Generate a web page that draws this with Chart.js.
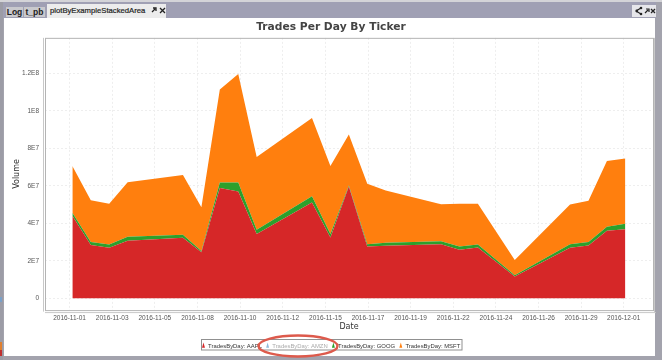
<!DOCTYPE html>
<html><head><meta charset="utf-8">
<script src="https://cdn.jsdelivr.net/npm/chart.js@4/dist/chart.umd.js"></script>
<style>
html,body{margin:0;padding:0;background:#a3a3ad;width:662px;height:360px;overflow:hidden;font-family:"Liberation Sans",sans-serif}
body{filter:blur(0.35px)}
div.a{position:absolute}
#top{left:0;top:0;width:662px;height:2px;background:#d4d4d8}
#band{left:3px;top:2px;width:653px;height:16px;background:#a0a0b4}
#panel{left:4px;top:18px;width:651px;height:338px;background:#fff}
#edge{left:0;top:2px;width:3px;height:358px;background:#9c9ca6}
.tab{height:10px;line-height:11px;top:7px;background:#c9c9cd;color:#222;font-size:8.5px;font-weight:bold;text-align:center}
canvas{position:absolute;left:0;top:0}
svg{position:absolute}
</style></head><body>
<div class="a" id="top"></div><div class="a" id="edge"></div><div class="a" id="band"></div><div class="a" id="panel"></div>
<div class="a tab" style="left:6px;width:17px">Log</div>
<div class="a tab" style="left:24px;width:21px">t_pb</div>
<div class="a tab" style="left:47px;top:4px;height:14px;line-height:14px;width:119px;background:#ececec;text-align:left;text-indent:3px;font-weight:normal;font-size:7.7px;-webkit-text-stroke:0.2px #222">plotByExampleStackedArea</div>
<svg style="left:150px;top:6px" width="16" height="8"><path d="M2 6L5 3M3 2H6V5" stroke="#222" stroke-width="1.3" fill="none"/><path d="M10 2L15 7M15 2L10 7" stroke="#222" stroke-width="1.3"/></svg>
<div class="a" style="left:632px;top:5px;width:24px;height:12px;background:#e6e6ea"></div>
<svg style="left:635px;top:6px" width="21" height="10"><path d="M1 5L6 2M1 5L6 8" stroke="#222" stroke-width="1.1" fill="none"/><circle cx="1.8" cy="5" r="1.4" fill="#222"/><circle cx="6" cy="2" r="1.3" fill="#222"/><circle cx="6" cy="8" r="1.3" fill="#222"/><path d="M10 7L13 4M11 3H14V6" stroke="#222" stroke-width="1.2" fill="none"/><path d="M16 3L20 7M20 3L16 7" stroke="#222" stroke-width="1.3"/></svg>
<div class="a" style="left:0;top:342px;width:2px;height:8px;background:#e08030"></div>
<div class="a" style="left:0;top:350px;width:2px;height:6px;background:#c03030"></div>
<div class="a" style="left:0;top:297px;width:2px;height:5px;background:#7aa0c8"></div>
<canvas id="c" width="662" height="360"></canvas>
<script>
const dates=["2016-11-01","2016-11-02","2016-11-03","2016-11-04","2016-11-07","2016-11-08","2016-11-09","2016-11-10","2016-11-11","2016-11-14","2016-11-15","2016-11-16","2016-11-17","2016-11-18","2016-11-21","2016-11-22","2016-11-23","2016-11-25","2016-11-28","2016-11-29","2016-11-30","2016-12-01"];
const aapl=[44.1e6,28.4e6,27.0e6,30.7e6,32.3e6,24.6e6,58.9e6,57.0e6,34.3e6,51.1e6,32.5e6,59.6e6,27.7e6,28.0e6,28.9e6,25.9e6,27.1e6,11.6e6,27.0e6,28.2e6,36.1e6,36.8e6];
const goog=[1.6e6,1.6e6,1.75e6,2.2e6,1.6e6,0.6e6,2.9e6,4.8e6,2.3e6,3.4e6,1.8e6,0.6e6,1.2e6,1.6e6,1.5e6,1.8e6,1.65e6,0.7e6,1.9e6,1.8e6,2.1e6,3.0e6];
const msft=[24.8e6,22.3e6,21.65e6,29.0e6,31.8e6,23.4e6,49.6e6,57.8e6,38.8e6,41.6e6,36.2e6,27.1e6,32.2e6,27.9e6,19.8e6,22.8e6,21.75e6,8.2e6,21.1e6,22.1e6,35.0e6,34.7e6];
const amzn=[];
const seriesNames=["TradesByDay: AAPL","TradesByDay: AMZN","TradesByDay: GOOG","TradesByDay: MSFT"];
const xTickDays=[-0.15,2.16,4.475,6.79,9.1,11.41,13.73,16.04,18.35,20.66,22.98,25.29,27.6,29.91];
const xTickLabels=["2016-11-01","2016-11-03","2016-11-05","2016-11-08","2016-11-10","2016-11-12","2016-11-15","2016-11-17","2016-11-19","2016-11-22","2016-11-24","2016-11-26","2016-11-29","2016-12-01"];
const yTickValues=[0,2e7,4e7,6e7,8e7,1e8,1.2e8];
const yTickLabels=["0","2E7","4E7","6E7","8E7","1E8","1.2E8"];

const dayOf=d=>(Date.parse(d)-Date.parse(dates[0]))/864e5;
const pts=v=>v.map((y,i)=>({x:dayOf(dates[i]),y}));
const font="'DejaVu Sans',sans-serif";
const small="'Liberation Sans',sans-serif";
const colors=["#d62728","#8fbcdc","#2ca02c","#ff7f0e"];

const chrome={id:'chrome',
 beforeDatasetsDraw(ch){const c=ch.ctx,a=ch.chartArea;c.save();c.strokeStyle='#b4b4b4';c.lineWidth=1;
  c.strokeRect(a.left+.5,a.top+.5,a.width,a.height);
  c.strokeStyle='#c8c8c8';c.beginPath();c.moveTo(43.5,a.top);c.lineTo(43.5,a.bottom+1.5);c.moveTo(45,a.bottom+2.5);c.lineTo(a.right+3,a.bottom+2.5);c.moveTo(a.right+1.5,a.top);c.lineTo(a.right+1.5,a.bottom+2);c.stroke();c.restore();},
 afterDraw(ch){const c=ch.ctx;c.save();
  c.strokeStyle='#909090';c.lineWidth=1;c.strokeRect(201.5,339.5,260.5,10.5);
  c.strokeStyle='#dd5a4c';c.lineWidth=2.4;c.beginPath();c.ellipse(298,346,39.5,10.5,0,0,Math.PI*2);c.stroke();c.restore();}
};

new Chart(document.getElementById('c'),{type:'line',
 data:{datasets:[
  {label:seriesNames[0],data:pts(aapl),backgroundColor:colors[0],fill:'origin'},
  {label:seriesNames[1],data:pts(amzn),backgroundColor:colors[1],hidden:true},
  {label:seriesNames[2],data:pts(goog),backgroundColor:colors[2],fill:0},
  {label:seriesNames[3],data:pts(msft),backgroundColor:colors[3],fill:2}
 ]},
 options:{responsive:false,animation:false,
  elements:{point:{radius:0},line:{borderWidth:0,tension:0}},
  layout:{padding:{left:0,right:0,top:0,bottom:1}},
  scales:{
   x:{type:'linear',min:-1.484,max:31.5,
    afterBuildTicks(s){s.ticks=xTickDays.map(v=>({value:v}));},
    afterFit(s){s.height=29;},
    grid:{color:'#eeeeee',drawTicks:false},border:{display:false,dash:[2,2]},
    ticks:{autoSkip:false,maxRotation:0,padding:4,color:'#555',font:{family:small,size:6.5},callback:(v,i)=>xTickLabels[i]},
    title:{display:true,text:'Date',color:'#333',font:{family:font,size:8},padding:{top:2,bottom:7}}},
   y:{stacked:true,min:-6.27e6,max:1.389e8,
    afterBuildTicks(s){s.ticks=yTickValues.map(v=>({value:v}));},
    afterFit(s){s.width=45;},
    grid:{color:'#eeeeee',drawTicks:false},border:{display:false,dash:[2,2]},
    ticks:{padding:6,color:'#555',font:{family:small,size:6.5},callback:(v,i)=>yTickLabels[i]},
    title:{display:true,text:'Volume',color:'#333',font:{family:font,size:8},padding:{top:12,bottom:0}}},
   yRightGap:{position:'right',min:0,max:1,afterFit(s){s.width=9;},
    ticks:{display:false},grid:{display:false},border:{display:false}}
  },
  plugins:{
   title:{display:true,text:'Trades Per Day By Ticker',color:'#444',font:{family:font,size:10.7,weight:'bold'},padding:{top:21,bottom:4}},
   tooltip:{enabled:false},
   legend:{position:'bottom',onClick:null,labels:{usePointStyle:true,pointStyle:'triangle',pointStyleWidth:3.4,boxWidth:5,boxHeight:5,padding:4,font:{family:small,size:5.9},
    generateLabels:()=>seriesNames.map((t,i)=>({text:t,fillStyle:colors[i],strokeStyle:colors[i],lineWidth:0,pointStyle:'triangle',hidden:false,fontColor:i===1?'#aaaaaa':'#333333',datasetIndex:i}))}}
  }
 },
 plugins:[chrome]
});
</script></body></html>
